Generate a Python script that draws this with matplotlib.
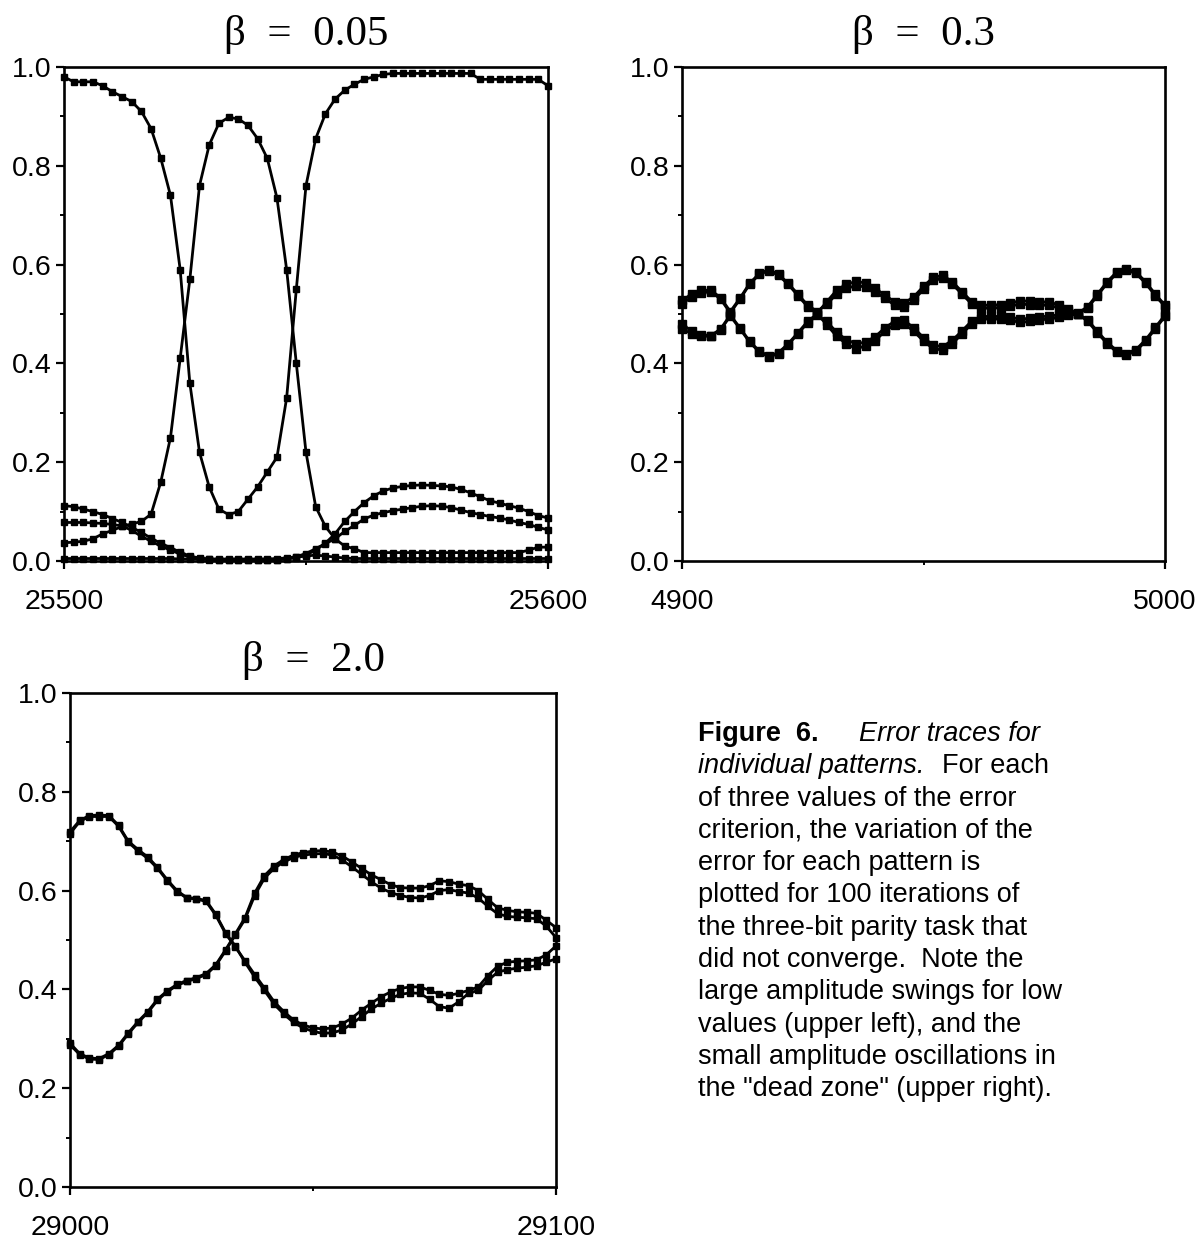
import numpy as np
import matplotlib
matplotlib.use('Agg')
import matplotlib.pyplot as plt
from matplotlib.ticker import FixedLocator, MultipleLocator

# iteration windows, sampled every 2 iterations
iters_005 = np.arange(25500, 25601, 2)
iters_03 = np.arange(4900, 5001, 2)
iters_20 = np.arange(29000, 29101, 2)

# beta = 0.05 : error of each pattern
b005_a = [0.98, 0.97, 0.97, 0.97, 0.962, 0.95, 0.94, 0.93, 0.91, 0.875,
          0.815, 0.74, 0.59, 0.36, 0.22, 0.15, 0.105, 0.094, 0.10, 0.125,
          0.15, 0.18, 0.21, 0.33, 0.55, 0.76, 0.855, 0.905, 0.935, 0.953,
          0.965, 0.975, 0.98, 0.985, 0.987, 0.987, 0.987, 0.987, 0.987, 0.987,
          0.987, 0.987, 0.987, 0.975, 0.975, 0.975, 0.975, 0.975, 0.975, 0.975,
          0.962]
b005_b = [0.037, 0.038, 0.04, 0.045, 0.055, 0.062, 0.07, 0.075, 0.08, 0.095,
          0.16, 0.25, 0.41, 0.57, 0.76, 0.842, 0.886, 0.898, 0.895, 0.882,
          0.855, 0.815, 0.735, 0.59, 0.40, 0.22, 0.11, 0.07, 0.045, 0.03,
          0.025, 0.017, 0.017, 0.017, 0.017, 0.017, 0.017, 0.017, 0.017, 0.017,
          0.017, 0.017, 0.017, 0.017, 0.017, 0.017, 0.017, 0.017, 0.022, 0.028,
          0.028]
b005_c = [0.112, 0.11, 0.105, 0.10, 0.094, 0.086, 0.078, 0.068, 0.058, 0.046,
          0.036, 0.027, 0.018, 0.01, 0.006, 0.004, 0.003, 0.003, 0.003, 0.003,
          0.003, 0.003, 0.003, 0.004, 0.007, 0.012, 0.022, 0.036, 0.055, 0.08,
          0.10, 0.118, 0.132, 0.142, 0.148, 0.151, 0.153, 0.154, 0.153, 0.152,
          0.15, 0.145, 0.138, 0.13, 0.122, 0.117, 0.112, 0.107, 0.10, 0.092,
          0.087]
b005_d = [0.078, 0.078, 0.078, 0.077, 0.076, 0.074, 0.071, 0.062, 0.05, 0.04,
          0.03, 0.022, 0.014, 0.008, 0.005, 0.003, 0.003, 0.003, 0.003, 0.003,
          0.003, 0.003, 0.003, 0.005, 0.009, 0.015, 0.025, 0.035, 0.045, 0.06,
          0.072, 0.085, 0.093, 0.098, 0.102, 0.105, 0.108, 0.111, 0.112, 0.111,
          0.108, 0.103, 0.098, 0.094, 0.09, 0.087, 0.083, 0.078, 0.074, 0.068,
          0.063]
b005_e = [0.005, 0.005, 0.005, 0.005, 0.005, 0.005, 0.005, 0.005, 0.005, 0.005,
          0.005, 0.005, 0.004, 0.004, 0.004, 0.004, 0.004, 0.004, 0.004, 0.004,
          0.004, 0.004, 0.005, 0.006, 0.008, 0.01, 0.012, 0.01, 0.008, 0.006,
          0.005, 0.005, 0.005, 0.005, 0.005, 0.005, 0.005, 0.005, 0.005, 0.005,
          0.005, 0.005, 0.005, 0.005, 0.005, 0.005, 0.005, 0.005, 0.005, 0.005,
          0.005]

# beta = 0.3
b03_u1 = [0.52, 0.535, 0.543, 0.545, 0.53, 0.502, 0.53, 0.56, 0.58, 0.588,
          0.578, 0.56, 0.537, 0.515, 0.502, 0.525, 0.548, 0.56, 0.566, 0.563,
          0.552, 0.538, 0.525, 0.522, 0.535, 0.556, 0.574, 0.578, 0.565, 0.545,
          0.525, 0.518, 0.518, 0.519, 0.522, 0.527, 0.526, 0.524, 0.525, 0.518,
          0.51, 0.502, 0.515, 0.54, 0.565, 0.585, 0.592, 0.585, 0.565, 0.54,
          0.518]
b03_u2 = [0.528, 0.54, 0.548, 0.548, 0.533, 0.505, 0.532, 0.562, 0.582, 0.59,
          0.58, 0.562, 0.54, 0.518, 0.505, 0.52, 0.54, 0.552, 0.557, 0.555,
          0.545, 0.532, 0.518, 0.514, 0.528, 0.55, 0.568, 0.572, 0.56, 0.54,
          0.52, 0.512, 0.512, 0.513, 0.516, 0.52, 0.519, 0.518, 0.518, 0.512,
          0.506, 0.50, 0.512, 0.537, 0.562, 0.582, 0.589, 0.582, 0.562, 0.537,
          0.515]
b03_l1 = [0.48, 0.465, 0.458, 0.456, 0.47, 0.498, 0.472, 0.445, 0.425, 0.415,
          0.422, 0.44, 0.462, 0.485, 0.50, 0.478, 0.455, 0.44, 0.43, 0.435,
          0.446, 0.465, 0.478, 0.48, 0.465, 0.445, 0.43, 0.427, 0.44, 0.46,
          0.48, 0.49, 0.49, 0.49, 0.487, 0.483, 0.485, 0.488, 0.49, 0.493,
          0.497, 0.50, 0.485, 0.462, 0.44, 0.423, 0.417, 0.425, 0.445, 0.47,
          0.495]
b03_l2 = [0.47, 0.46, 0.455, 0.455, 0.468, 0.496, 0.47, 0.443, 0.423, 0.413,
          0.42, 0.438, 0.46, 0.482, 0.497, 0.485, 0.463, 0.448, 0.44, 0.443,
          0.454, 0.472, 0.485, 0.487, 0.472, 0.452, 0.437, 0.434, 0.447, 0.466,
          0.486, 0.495, 0.495, 0.495, 0.493, 0.49, 0.491, 0.494, 0.496, 0.498,
          0.499, 0.50, 0.488, 0.465, 0.443, 0.426, 0.42, 0.428, 0.448, 0.473,
          0.498]

# beta = 2.0
b20_p1 = [0.719, 0.742, 0.752, 0.753, 0.752, 0.732, 0.70, 0.683, 0.668, 0.647,
          0.622, 0.60, 0.586, 0.584, 0.58, 0.552, 0.515, 0.488, 0.455, 0.425,
          0.398, 0.37, 0.35, 0.333, 0.322, 0.315, 0.311, 0.312, 0.318, 0.33,
          0.345, 0.36, 0.372, 0.382, 0.39, 0.393, 0.392, 0.38, 0.365, 0.362,
          0.375, 0.392, 0.398, 0.418, 0.435, 0.44, 0.443, 0.445, 0.448, 0.455,
          0.462]
b20_p2 = [0.715, 0.74, 0.75, 0.75, 0.75, 0.73, 0.698, 0.68, 0.665, 0.645,
          0.62, 0.598, 0.585, 0.583, 0.578, 0.55, 0.513, 0.486, 0.458, 0.43,
          0.403, 0.375, 0.355, 0.338, 0.328, 0.322, 0.32, 0.322, 0.33, 0.342,
          0.358, 0.372, 0.385, 0.395, 0.402, 0.405, 0.405, 0.398, 0.39, 0.388,
          0.392, 0.398, 0.405, 0.428, 0.447, 0.455, 0.457, 0.458, 0.46, 0.47,
          0.488]
b20_q1 = [0.291, 0.27, 0.261, 0.26, 0.27, 0.287, 0.312, 0.335, 0.355, 0.38,
          0.397, 0.41, 0.418, 0.424, 0.432, 0.45, 0.48, 0.512, 0.545, 0.595,
          0.63, 0.65, 0.663, 0.672, 0.677, 0.68, 0.681, 0.678, 0.67, 0.658,
          0.645, 0.632, 0.622, 0.612, 0.606, 0.605, 0.605, 0.61, 0.62, 0.618,
          0.613, 0.61, 0.60, 0.582, 0.565, 0.56, 0.557, 0.556, 0.554, 0.54,
          0.525]
b20_q2 = [0.288, 0.268, 0.259, 0.258, 0.268, 0.285, 0.31, 0.333, 0.353, 0.378,
          0.395, 0.408, 0.416, 0.422, 0.43, 0.448, 0.478, 0.51, 0.542, 0.59,
          0.625, 0.645, 0.658, 0.667, 0.672, 0.674, 0.675, 0.672, 0.662, 0.648,
          0.633, 0.618, 0.605, 0.596, 0.59, 0.586, 0.585, 0.59, 0.60, 0.602,
          0.598, 0.595, 0.585, 0.568, 0.553, 0.548, 0.546, 0.545, 0.543, 0.528,
          0.505]

# title, x values, traces, marker size
panels = [
    ('\u03b2  =  0.05', iters_005, [b005_a, b005_b, b005_c, b005_d, b005_e], 4.2),
    ('\u03b2  =  0.3', iters_03, [b03_u1, b03_u2, b03_l1, b03_l2], 5.5),
    ('\u03b2  =  2.0', iters_20, [b20_p1, b20_p2, b20_q1, b20_q2], 4.4),
]

W, H = 1204, 1243
fig = plt.figure(figsize=(W / 100, H / 100), dpi=100)

# axes boxes in pixels: left, top, right, bottom
boxes = [(64, 67, 548, 561), (682, 67, 1165, 561), (70, 693, 556, 1187)]

sans = 'Liberation Sans'
serif = 'Liberation Serif'

for (title, xs, series, ms), (l, t, r, b) in zip(panels, boxes):
    ax = fig.add_axes([l / W, 1 - b / H, (r - l) / W, (b - t) / H])
    for ys in series:
        ax.plot(xs, ys, color='black', lw=2.0, marker='s', ms=ms,
                mfc='black', mec='black', clip_on=False)
    ax.set_xlim(xs[0], xs[-1])
    ax.set_ylim(0, 1)
    ax.xaxis.set_major_locator(FixedLocator([xs[0], xs[-1]]))
    ax.xaxis.set_minor_locator(FixedLocator([(xs[0] + xs[-1]) / 2]))
    ax.yaxis.set_major_locator(MultipleLocator(0.2))
    ax.yaxis.set_minor_locator(MultipleLocator(0.1))
    ax.set_yticklabels([f'{v:.1f}' for v in ax.get_yticks()])
    ax.set_xticklabels([str(xs[0]), str(xs[-1])])
    ax.tick_params(which='major', direction='out', length=6, width=1.6,
                   labelsize=20.5)
    ax.tick_params(which='minor', direction='out', length=3, width=1.4)
    ax.tick_params(axis='y', pad=3)
    ax.tick_params(axis='x', pad=14)
    for lab in ax.get_xticklabels() + ax.get_yticklabels():
        lab.set_fontfamily(sans)
    for sp in ax.spines.values():
        sp.set_linewidth(1.9)
    ax.set_title(title, fontsize=31, family=serif, pad=16)

# caption
renderer = fig.canvas.get_renderer()
cap_x = 698 / W
base0 = 741
step = 32.3
fs = 19.5


def put(x, line, text, **kw):
    y = 1 - (base0 + line * step) / H
    t = fig.text(x, y, text, fontsize=fs, family=sans, va='baseline', **kw)
    return t, t.get_window_extent(renderer).x1 / W

t, x_end = put(cap_x, 0, 'Figure  6.', weight='bold')
put(x_end + 40 / W, 0, 'Error traces for', style='italic')
t, x_end = put(cap_x, 1, 'individual patterns.', style='italic')
put(x_end + 18 / W, 1, 'For each')

rest = [
    'of three values of the error',
    'criterion, the variation of the',
    'error for each pattern is',
    'plotted for 100 iterations of',
    'the three-bit parity task that',
    'did not converge.  Note the',
    'large amplitude swings for low',
    'values (upper left), and the',
    'small amplitude oscillations in',
    'the "dead zone" (upper right).',
]
for k, line in enumerate(rest):
    put(cap_x, k + 2, line)

fig.savefig('out.png', dpi=100)
